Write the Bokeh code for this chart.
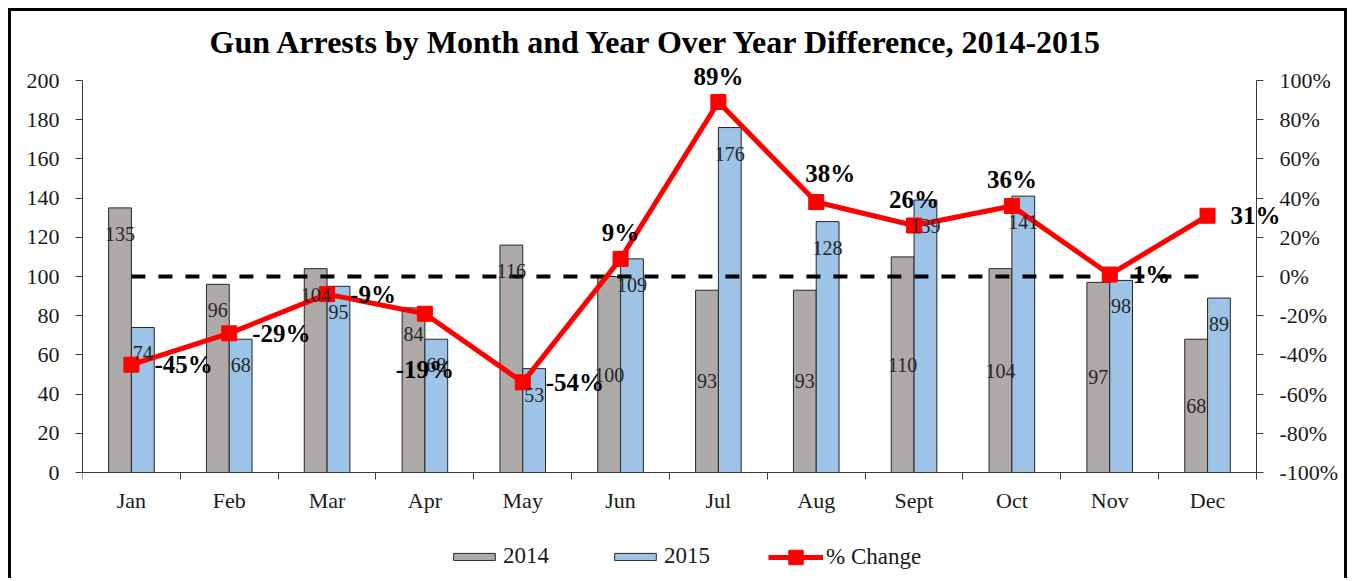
import numpy as np
from bokeh.plotting import figure
from bokeh.models import (ColumnDataSource, Range1d, LinearAxis, FixedTicker,
                          NumeralTickFormatter, Legend, LegendItem)
from bokeh.core.properties import value
from bokeh.embed import file_html
from bokeh.resources import INLINE

# ---------------- data ----------------
months = ["Jan", "Feb", "Mar", "Apr", "May", "Jun", "Jul", "Aug", "Sept", "Oct", "Nov", "Dec"]
arrests_2014 = [135, 96, 104, 84, 116, 100, 93, 93, 110, 104, 97, 68]
arrests_2015 = [74, 68, 95, 68, 53, 109, 176, 128, 139, 141, 98, 89]
pct_change = [-0.45, -0.29, -0.09, -0.19, -0.54, 0.09, 0.89, 0.38, 0.26, 0.36, 0.01, 0.31]
left_ticks = [0, 20, 40, 60, 80, 100, 120, 140, 160, 180, 200]
right_ticks = [-1.0, -0.8, -0.6, -0.4, -0.2, 0.0, 0.2, 0.4, 0.6, 0.8, 1.0]
title_text = "Gun Arrests by Month and Year Over Year Difference, 2014-2015"

# ---------------- label styling (placement only) ----------------
pos_2014 = ["end", "end", "end", "end", "end", "center", "center", "center",
            "center", "center", "center", "center"]
pct_pos = ["right", "right", "right", "below", "right", "above", "above", "above_r",
           "above", "above", "right", "right"]
PLACE = {"right": (23, 0, "left"), "above": (0, -26, "center"),
         "above_r": (14, -29, "center"), "below": (0, 56, "center")}

FONT = "Liberation Serif"
GRAY = "#AEAAAA"
BLUE = "#9DC3E6"
RED = "#FF0000"
AX = "#3A3A3A"
TXT = "#1A1A1A"

n = len(months)
xc = np.arange(n) + 0.5
bw = 0.233
x14 = xc - bw / 2
x15 = xc + bw / 2

src = ColumnDataSource(dict(
    x14=x14, x15=x15, xc=xc,
    v14=arrests_2014, v15=arrests_2015, pct=pct_change,
    t14=[str(v) for v in arrests_2014],
    t15=[str(v) for v in arrests_2015],
    y14=[v if p == "end" else v / 2 for v, p in zip(arrests_2014, pos_2014)],
    o14=[26 if p == "end" else 0 for p in pos_2014],
    o15=[26] * n,
    tp=[f"{round(v * 100):d}%" for v in pct_change],
    px=[PLACE[p][0] for p in pct_pos],
    py=[PLACE[p][1] for p in pct_pos],
    pa=[PLACE[p][2] for p in pct_pos],
))

# canvas 1339 x 570 at page (11, 11); frame spans x 82..1350, y 62..581 (page)
# y: 0 -> page 472, 200 -> page 80  (1.96 px per unit)
Y0, Y1 = -(581 - 472) / 1.96, 200 + (80 - 62) / 1.96
X1 = (1350 - 82) / 97.83

p = figure(width=1339, height=570, x_range=Range1d(0, X1), y_range=Range1d(Y0, Y1),
           output_backend="svg", toolbar_location=None,
           min_border_left=71, min_border_right=0, min_border_top=51, min_border_bottom=0)
p.styles = {"margin-left": "8px", "margin-top": "8px",
            "border-left": "3px solid black", "border-top": "3px solid black",
            "border-right": "3px solid black"}
p.outline_line_color = None
p.xgrid.visible = False
p.ygrid.visible = False
p.extra_y_ranges = {"pct": Range1d((Y0 - 100) / 100, (Y1 - 100) / 100)}

# title
p.title.text = title_text
p.title.text_font = FONT
p.title.text_font_size = "32px"
p.title.text_font_style = "bold"
p.title.text_color = "black"
p.title.align = "left"
p.title.offset = 127
p.title.standoff = 6

# x axis: labels at centers, ticks between categories, fixed at y=0
xa = p.xaxis[0]
xa.fixed_location = 0
xa.bounds = (0, n)
xa.ticker = FixedTicker(ticks=list(xc), minor_ticks=list(range(n + 1)))
xa.major_label_overrides = {float(x): m for x, m in zip(xc, months)}
xa.major_tick_out = 0
xa.major_tick_in = 0
xa.minor_tick_out = 7
xa.minor_tick_in = 0
xa.minor_tick_line_color = AX
xa.axis_line_color = AX
xa.major_label_standoff = 8
xa.major_label_text_font = FONT
xa.major_label_text_font_size = "22px"
xa.major_label_text_color = TXT

ya = p.yaxis[0]
ya.bounds = (0, 200)
ya.ticker = FixedTicker(ticks=left_ticks, minor_ticks=[])
ya.major_tick_out = 7
ya.major_tick_in = 0
ya.minor_tick_out = 0
ya.minor_tick_in = 0
ya.axis_line_color = AX
ya.major_tick_line_color = AX
ya.major_label_standoff = 16
ya.major_label_text_font = FONT
ya.major_label_text_font_size = "22px"
ya.major_label_text_color = TXT

ra = LinearAxis(y_range_name="pct", ticker=FixedTicker(ticks=right_ticks, minor_ticks=[]),
                formatter=NumeralTickFormatter(format="0%"), fixed_location=n, bounds=(-1, 1))
ra.major_tick_out = 7
ra.major_tick_in = 0
ra.minor_tick_out = 0
ra.minor_tick_in = 0
ra.axis_line_color = AX
ra.major_tick_line_color = AX
ra.major_label_standoff = 16
ra.major_label_text_font = FONT
ra.major_label_text_font_size = "22px"
ra.major_label_text_color = TXT
p.add_layout(ra, "right")

# bars
b14 = p.vbar(x="x14", top="v14", bottom=0, width=bw, source=src,
             fill_color=GRAY, line_color="#262626", line_width=1)
b15 = p.vbar(x="x15", top="v15", bottom=0, width=bw, source=src,
             fill_color=BLUE, line_color="#262626", line_width=1)

# zero-change reference line
p.line(x=[xc[0], xc[-1]], y=[0, 0], y_range_name="pct",
       line_color="black", line_width=4, line_dash="14 13")

# % change line
lr = p.line(x="xc", y="pct", source=src, y_range_name="pct", line_color=RED, line_width=5)
sr = p.scatter(x="xc", y="pct", source=src, y_range_name="pct", marker="square",
               size=15, fill_color=RED, line_color=RED)

# bar value labels
p.text(x="x14", y="y14", text="t14", source=src, y_offset="o14",
       text_font=value(FONT), text_font_size="20px", text_color="#262626",
       text_align="center", text_baseline="middle")
p.text(x="x15", y="v15", text="t15", source=src, y_offset="o15",
       text_font=value(FONT), text_font_size="20px", text_color="#262626",
       text_align="center", text_baseline="middle")

# % labels
p.text(x="xc", y="pct", text="tp", source=src, y_range_name="pct",
       x_offset="px", y_offset="py", text_align="pa",
       text_font=value(FONT), text_font_size="25px", text_font_style="bold",
       text_color="black", text_baseline="middle")

# legends (inside the frame, below the x axis)
common = dict(orientation="horizontal", padding=0, margin=0, border_line_color=None,
              background_fill_alpha=0, label_text_font=FONT, label_text_font_size="23px",
              label_text_color=TXT, label_standoff=3)
leg1 = Legend(items=[LegendItem(label="2014", renderers=[b14])], location=(366, 12),
              glyph_width=52, glyph_height=9, **common)
leg2 = Legend(items=[LegendItem(label="2015", renderers=[b15])], location=(527, 12),
              glyph_width=52, glyph_height=9, **common)
leg3 = Legend(items=[LegendItem(label="% Change", renderers=[lr, sr])], location=(686, 6),
              glyph_width=55, glyph_height=36, **common)
for lg in (leg1, leg2, leg3):
    p.add_layout(lg)

open("out.html", "w").write(file_html(p, INLINE))
